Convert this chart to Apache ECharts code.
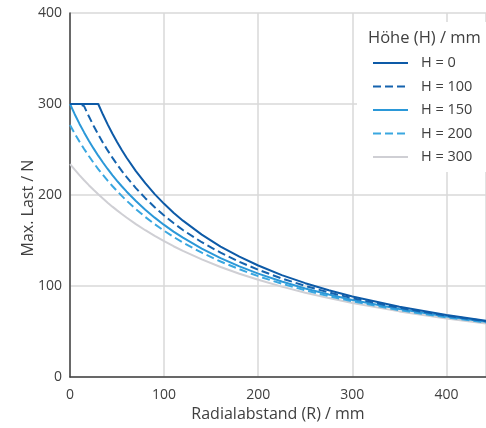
<!DOCTYPE html>
<html>
<head>
<meta charset="utf-8">
<script src="https://cdn.jsdelivr.net/npm/echarts@6/dist/echarts.min.js"></script>
<style>
html,body{margin:0;padding:0;background:#fff;}
#c{width:486px;height:428px;}
</style>
</head>
<body>
<div id="c"></div>
<script>
// Radial distance R (mm) sample positions
var radius = [0,5,10,15,20,25,30,35,40,45,50,55,60,70,80,90,100,110,120,140,160,180,200,225,250,275,300,350,400,442];
// Max. load (N) per height H
var loadH0   = [300,300,300,300,300,300,300,288.4,277.6,267.6,258.2,249.4,241.2,226.3,213.0,201.0,190.3,180.6,171.8,156.4,143.3,132.2,122.5,112.0,103.1,95.3,88.5,77.2,68.2,61.8];
var loadH100 = [300,300,300,297.6,286.5,276.2,266.5,257.5,249.0,241.1,233.6,226.5,219.9,207.6,196.5,186.5,177.5,169.2,161.5,148.1,136.6,126.6,117.8,108.3,100.1,92.9,86.6,75.9,67.3,61.3];
var loadH150 = [300,288.8,278.4,268.8,259.7,251.2,243.2,235.7,228.6,221.9,215.6,209.6,203.9,193.4,183.8,175.1,167.1,159.8,153.1,141.1,130.7,121.6,113.6,104.9,97.3,90.6,84.7,74.7,66.6,60.8];
var loadH200 = [277.0,267.6,258.8,250.6,242.8,235.4,228.5,222.0,215.8,209.9,204.3,199.0,193.9,184.5,175.8,167.9,160.7,154.0,147.7,136.6,126.9,118.4,110.8,102.5,95.2,88.8,83.1,73.4,65.5,59.9];
var loadH300 = [234.0,227.8,221.8,216.2,210.8,205.7,200.8,196.1,191.6,187.2,183.1,179.1,175.3,168.0,161.3,155.0,149.2,143.7,138.6,129.2,120.9,113.5,106.8,99.3,92.65,86.7,81.3,72.1,64.4,58.8];
var seriesNames = ['H = 0','H = 100','H = 150','H = 200','H = 300'];
var legendTitle = 'Höhe (H) / mm';
var xName = 'Radialabstand (R) / mm';
var yName = 'Max. Last / N';

var allLoads = [loadH0, loadH100, loadH150, loadH200, loadH300];
var colors = ['#0d5aa7','#1563ae','#2b98d8','#3aa7e0','#cfcfd4'];
var dashes = ['solid',[8,4],'solid',[8,4],'solid'];

function pairs(vals){ return radius.map(function(r,i){ return [r, vals[i]]; }); }

var chart = echarts.init(document.getElementById('c'), null, {renderer:'canvas'});
var font = '"Open Sans", "Noto Sans", sans-serif';
chart.setOption({
  animation:false,
  backgroundColor:'#ffffff',
  textStyle:{fontFamily:font},
  grid:{left:70, right:0, top:13, bottom:51, containLabel:false},
  xAxis:{
    type:'value', min:0, max:442, interval:100,
    name:xName, nameLocation:'middle', nameGap:29,
    nameTextStyle:{fontSize:16, color:'#404040', fontFamily:font},
    axisLine:{show:true, onZero:false, lineStyle:{color:'#404040', width:1.5}},
    axisTick:{show:false},
    axisLabel:{fontSize:14, color:'#404040', margin:11, fontFamily:font, showMaxLabel:false},
    splitLine:{show:true, lineStyle:{color:'#d9d9d9', width:1.5}}
  },
  yAxis:{
    type:'value', min:0, max:400, interval:100,
    axisLine:{show:true, onZero:false, lineStyle:{color:'#404040', width:1.5}},
    axisTick:{show:false},
    axisLabel:{fontSize:14, color:'#404040', margin:8, fontFamily:font},
    splitLine:{show:true, lineStyle:{color:'#d9d9d9', width:1.5}}
  },
  legend:{
    show:true, orient:'vertical', left:372, top:55, padding:0,
    itemWidth:35, itemHeight:16, itemGap:7.5,
    data:seriesNames,
    itemStyle:{opacity:0},
    textStyle:{fontSize:14.5, color:'#404040', fontFamily:font, lineHeight:16, padding:[0,0,0,8]},
    z:6
  },
  graphic:[
    {type:'rect', shape:{x:357, y:22, width:129, height:150}, style:{fill:'#ffffff'}, z:1, silent:true},
    {type:'text', x:368, y:38, z:6, style:{text:legendTitle, fill:'#404040', font:'16.5px "Open Sans", sans-serif', textVerticalAlign:'middle'}},
    {type:'text', x:28, y:208, rotation:Math.PI/2, z:6, style:{text:yName, fill:'#404040', font:'16px "Open Sans", sans-serif', textAlign:'center', textVerticalAlign:'middle'}}
  ],
  series: allLoads.map(function(vals, i){
    return {
      name:seriesNames[i], type:'line', data:pairs(vals), showSymbol:false, symbol:'none',
      smooth:false, z:3 + (4-i),
      lineStyle:{color:colors[i], width:2, type:dashes[i]},
      itemStyle:{color:colors[i]}
    };
  })
});
</script>
</body>
</html>
